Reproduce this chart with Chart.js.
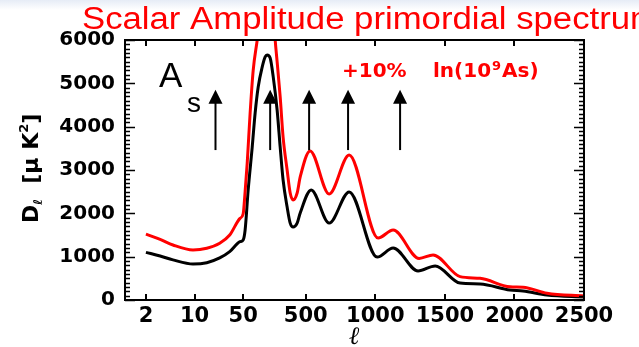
<!DOCTYPE html>
<html>
<head>
<meta charset="utf-8">
<script src="https://cdn.jsdelivr.net/npm/chart.js@4"></script>
<style>
  body { margin: 0; background: #fff; }
  #spec { display: block; }
</style>
</head>
<body>
<canvas id="spec" width="639" height="347"></canvas>
<script>
// multipoles (l) and D_l [uK^2]
const ellBlack = [2, 3.2, 4.9, 9.5, 15, 23, 32, 45, 50, 64, 86, 115, 136, 158, 187, 208, 222, 244, 266, 294, 316, 337, 366, 388, 409, 438, 460, 539, 668, 812, 1013, 1128, 1307, 1430, 1609, 1753, 1968, 2062, 2234, 2500]
const dlBlack = [1100, 1015, 925, 830, 860, 970, 1115, 1345, 1385, 1615, 2540, 3530, 4315, 4915, 5380, 5610, 5655, 5585, 5150, 4385, 3530, 2770, 2145, 1775, 1685, 1775, 2010, 2540, 1775, 2495, 990, 1200, 670, 785, 390, 370, 230, 210, 115, 70]

const ellRed = [2, 3.2, 4.9, 9.5, 15, 23, 32, 45, 50, 64, 79, 100, 122, 151, 187, 222, 244, 266, 280, 294, 316, 337, 366, 388, 409, 438, 460, 531, 668, 812, 1020, 1128, 1315, 1415, 1609, 1753, 1968, 2062, 2234, 2500]
const dlRed = [1520, 1400, 1270, 1155, 1195, 1310, 1500, 1885, 1990, 2500, 3160, 4315, 5300, 6000, 6900, 7350, 7250, 6650, 6000, 5500, 4685, 3760, 3000, 2470, 2310, 2470, 2840, 3440, 2445, 3345, 1430, 1615, 960, 1040, 540, 500, 305, 295, 155, 92]

const xTickLabels = [2, 10, 50, 500, 1000, 1500, 2000, 2500]
const yTickStep = 1000

// arrows of the annotation: l position, from / to in D_l
const arrowEll = [20, 244, 524, 804, 1178]
const arrowFrom = 3460
const arrowTo = 4850

// log below l=50, linear above (one decade = 500 in l)
function toU(l) {
    return l >= 50 ? l : 50 + 500 * Math.log10(l / 50)
}

const tickFont = { family: "DejaVu Sans", size: 21, weight: "bold" }

const decor = {
    id: "decor",
    beforeDraw(chart) {
        const ctx = chart.ctx
        ctx.save()
        ctx.fillStyle = "#fff"
        ctx.fillRect(0, 0, chart.width, chart.height)
        const g = ctx.createLinearGradient(0, 0, 0, 10)
        g.addColorStop(0, "#e6ecf6")
        g.addColorStop(1, "#ffffff")
        ctx.fillStyle = g
        ctx.fillRect(0, 0, chart.width, 10)
        ctx.restore()
    },
    afterDraw(chart) {
        const ctx = chart.ctx
        const a = chart.chartArea
        const x = chart.scales.x
        const y = chart.scales.y
        ctx.save()
        ctx.strokeStyle = "#000"
        ctx.lineWidth = 2
        ctx.strokeRect(a.left, a.top, a.right - a.left, a.bottom - a.top)

        // y ticks, inner, both sides
        ctx.lineWidth = 1.5
        ctx.beginPath()
        for (let v = 0; v <= 6000; v += 100) {
            const py = Math.round(y.getPixelForValue(v)) + 0.5
            const len = v % yTickStep === 0 ? 10 : 5
            ctx.moveTo(a.left, py); ctx.lineTo(a.left + len, py)
            ctx.moveTo(a.right, py); ctx.lineTo(a.right - len, py)
        }
        ctx.stroke()
        // x ticks, top and bottom
        ctx.lineWidth = 2
        ctx.beginPath()
        xTickLabels.forEach(l => {
            const px = Math.round(x.getPixelForValue(toU(l)))
            ctx.moveTo(px, a.bottom); ctx.lineTo(px, a.bottom - 6)
            ctx.moveTo(px, a.top); ctx.lineTo(px, a.top + 6)
        })
        ctx.stroke()

        // arrows
        ctx.fillStyle = "#000"
        arrowEll.forEach(l => {
            const px = x.getPixelForValue(toU(l))
            const y0 = y.getPixelForValue(arrowFrom)
            const y1 = y.getPixelForValue(arrowTo)
            ctx.beginPath()
            ctx.moveTo(px, y0); ctx.lineTo(px, y1 + 10)
            ctx.stroke()
            ctx.beginPath()
            ctx.moveTo(px, y1); ctx.lineTo(px - 7, y1 + 14); ctx.lineTo(px + 7, y1 + 14)
            ctx.closePath()
            ctx.fill()
        })

        // title (slightly wide, as in the slide)
        ctx.fillStyle = "#ff0000"
        ctx.textBaseline = "alphabetic"
        ctx.textAlign = "left"
        ctx.save()
        ctx.translate(82, 29)
        ctx.scale(1.12, 1)
        ctx.font = "31px 'Liberation Sans'"
        ctx.fillText("Scalar Amplitude primordial spectrum", 0, 0)
        ctx.restore()

        // A_s
        ctx.fillStyle = "#000"
        ctx.font = "35px 'Liberation Sans'"
        ctx.fillText("A", 159, 87)
        ctx.font = "28px 'Liberation Sans'"
        ctx.fillText("s", 187, 112)

        // +10% ln(10^9 As)
        ctx.fillStyle = "#ff0000"
        ctx.font = "bold 20px 'DejaVu Sans'"
        ctx.fillText("+10%", 342, 77)
        let tx = 433
        ctx.fillText("ln(10", tx, 77)
        tx += ctx.measureText("ln(10").width
        ctx.font = "bold 13px 'DejaVu Sans'"
        ctx.fillText("9", tx + 1, 70)
        tx += ctx.measureText("9").width + 2
        ctx.font = "bold 20px 'DejaVu Sans'"
        ctx.fillText("As)", tx, 77)

        // y title, rotated
        ctx.fillStyle = "#000"
        ctx.translate(38, 223)
        ctx.rotate(-Math.PI / 2)
        const parts = [
            ["D", "bold 22px 'DejaVu Sans'", 0],
            ["\u2113", "bold 12px 'DejaVu Sans'", 4],
            ["  [\u03bc K", "bold 22px 'DejaVu Sans'", 0],
            ["2", "bold 13px 'DejaVu Sans'", -10],
            ["]", "bold 22px 'DejaVu Sans'", 0]
        ]
        let px = 0
        parts.forEach(([t, f, dy]) => {
            ctx.font = f
            ctx.fillText(t, px, dy)
            px += ctx.measureText(t).width
        })
        ctx.restore()
    }
}

new Chart("spec", {
    type: "line",
    data: {
        datasets: [{
            label: "+10% ln(10^9 As)",
            data: ellRed.map((l, i) => ({ x: toU(l), y: dlRed[i] })),
            borderColor: "#ff0000",
            borderWidth: 3,
            pointRadius: 0,
            cubicInterpolationMode: "monotone",
            clip: 0
        }, {
            label: "fiducial",
            data: ellBlack.map((l, i) => ({ x: toU(l), y: dlBlack[i] })),
            borderColor: "#000000",
            borderWidth: 3,
            pointRadius: 0,
            cubicInterpolationMode: "monotone",
            clip: 0
        }]
    },
    options: {
        responsive: false,
        devicePixelRatio: 1,
        animation: false,
        layout: { padding: { top: 40, right: 55, left: 0, bottom: 0 } },
        plugins: { legend: { display: false }, tooltip: { enabled: false } },
        scales: {
            x: {
                type: "linear",
                min: toU(1),
                max: 2500,
                afterBuildTicks: s => { s.ticks = xTickLabels.map(v => ({ value: toU(v) })) },
                afterFit: s => { s.height = 47 },
                ticks: {
                    callback: (v, i) => String(xTickLabels[i]),
                    font: tickFont,
                    color: "#000",
                    maxRotation: 0,
                    autoSkip: false,
                    padding: 4
                },
                grid: { display: false, drawTicks: false },
                border: { display: false },
                title: {
                    display: true,
                    text: "\u2113",
                    color: "#000",
                    font: { family: "DejaVu Serif", size: 25, weight: "bold", style: "italic", lineHeight: 1 },
                    padding: { top: 0, bottom: -3 }
                }
            },
            y: {
                min: 0,
                max: 6000,
                afterFit: s => { s.width = 125 },
                ticks: {
                    stepSize: yTickStep,
                    callback: v => String(v),
                    font: { family: "DejaVu Sans", size: 20, weight: "bold" },
                    color: "#000",
                    padding: 10
                },
                grid: { display: false, drawTicks: false },
                border: { display: false }
            }
        }
    },
    plugins: [decor]
})
</script>
</body>
</html>
